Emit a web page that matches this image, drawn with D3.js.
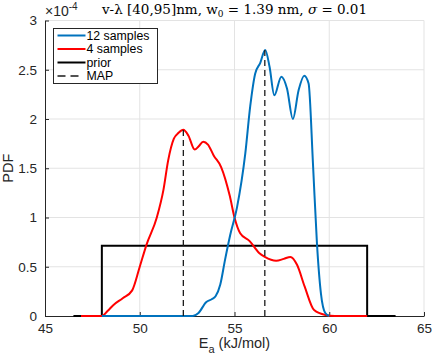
<!DOCTYPE html>
<html>
<head>
<meta charset="utf-8">
<script src="https://cdn.jsdelivr.net/npm/d3@7"></script>
<style>
  body { margin: 0; background: #fff; }
  text { font-family: "Liberation Sans", Arial, sans-serif; fill: #262626; }
  .grid line { stroke: #e3e3e3; }
</style>
</head>
<body>
<svg width="432" height="360"></svg>
<script>
// PDF values are in units of 1e-4
const xTicks = [45, 50, 55, 60, 65];
const yTicks = [0, 0.5, 1, 1.5, 2, 2.5, 3];

const ea12 = [48, 52.8, 53.1, 53.5, 53.8, 54.0, 54.25, 54.5, 54.77, 55.13, 55.57, 55.83, 56.09, 56.36, 56.62, 56.85, 57.1, 57.47, 57.77, 58.08, 58.38, 58.68, 58.91, 59.14, 59.35, 59.56, 59.79, 60.0];
const pdf12 = [0, 0, 0.03, 0.14, 0.17, 0.2, 0.32, 0.57, 0.82, 1.1, 1.65, 2.13, 2.46, 2.57, 2.70, 2.53, 2.24, 2.43, 2.31, 2.0, 2.29, 2.44, 2.36, 1.55, 0.74, 0.23, 0.03, 0];

const ea4 = [46.9, 48.0, 48.3, 48.6, 49.1, 49.6, 50.0, 50.35, 50.9, 51.25, 51.5, 51.8, 52.05, 52.3, 52.57, 52.9, 53.1, 53.35, 53.6, 53.9, 54.3, 54.75, 55.0, 55.3, 55.8, 56.3, 56.6, 57.2, 57.6, 57.95, 58.3, 58.7, 59.2, 59.8, 60.3, 62.0];
const pdf4 = [0, 0, 0.05, 0.11, 0.18, 0.26, 0.5, 0.72, 1.0, 1.28, 1.58, 1.80, 1.86, 1.89, 1.83, 1.69, 1.72, 1.77, 1.74, 1.63, 1.51, 1.22, 1.0, 0.84, 0.76, 0.64, 0.60, 0.56, 0.58, 0.60, 0.52, 0.30, 0.06, 0.01, 0, 0];

const priorX = [46.5, 48, 48, 62, 62, 63.5];
const priorPdf = [0, 0, 1 / 1.4, 1 / 1.4, 0, 0];

const mapX = [52.3, 56.6];
const mapPdf = [1.89, 2.70];

const legendNames = ["12 samples", "4 samples", "prior", "MAP"];

const margin = { left: 45, right: 8, top: 20.5, bottom: 44 };
const width = 432 - margin.left - margin.right;
const height = 360 - margin.top - margin.bottom;

const svg = d3.select('svg');
const chart = svg.append('g')
  .attr('transform', `translate(${margin.left}, ${margin.top})`);

const x = d3.scaleLinear().domain([45, 65]).range([0, width]);
const y = d3.scaleLinear().domain([0, 3]).range([height, 0]);

// grid
chart.append('g')
  .attr('class', 'grid')
  .selectAll('line.v')
  .data(xTicks.slice(1))
  .enter().append('line')
  .attr('x1', d => x(d)).attr('x2', d => x(d))
  .attr('y1', 0).attr('y2', height);

chart.append('g')
  .attr('class', 'grid')
  .selectAll('line.h')
  .data(yTicks.slice(1))
  .enter().append('line')
  .attr('x1', 0).attr('x2', width)
  .attr('y1', d => y(d)).attr('y2', d => y(d));

// axes, ticks inward like matlab
const xAxis = chart.append('g')
  .attr('transform', `translate(0, ${height})`)
  .call(d3.axisBottom(x).tickValues(xTicks).tickSizeInner(-4).tickSizeOuter(0).tickPadding(10));
const yAxis = chart.append('g')
  .call(d3.axisLeft(y).tickValues(yTicks).tickSizeInner(-4).tickSizeOuter(0).tickPadding(8)
    .tickFormat(d3.format('')));

[xAxis, yAxis].forEach(a => {
  a.select('.domain').attr('stroke', '#262626');
  a.selectAll('.tick line').attr('stroke', '#262626');
  a.selectAll('.tick text').attr('font-size', 13.5).attr('fill', '#262626')
    .attr('font-family', '"Liberation Sans", Arial, sans-serif');
});
xAxis.selectAll('.tick text').attr('dy', '0.5em');

const line = (xs, ys, curve) => d3.line()
  .x(i => x(xs[i]))
  .y(i => y(ys[i]))
  .curve(curve)(d3.range(xs.length));

chart.append('path')
  .attr('d', line(priorX, priorPdf, d3.curveLinear))
  .attr('fill', 'none').attr('stroke', '#000').attr('stroke-width', 2);

chart.append('path')
  .attr('d', line(ea4, pdf4, d3.curveMonotoneX))
  .attr('fill', 'none').attr('stroke', '#ff0000').attr('stroke-width', 2);

chart.append('path')
  .attr('d', line(ea12, pdf12, d3.curveMonotoneX))
  .attr('fill', 'none').attr('stroke', '#0072bd').attr('stroke-width', 2);

chart.selectAll('line.map')
  .data(mapX)
  .enter().append('line')
  .attr('x1', d => x(d)).attr('x2', d => x(d))
  .attr('y1', y(0)).attr('y2', (d, i) => y(mapPdf[i]))
  .attr('stroke', '#1a1a1a').attr('stroke-width', 1.3).attr('stroke-dasharray', '6,4');

// exponent label
const expo = svg.append('text')
  .attr('x', margin.left).attr('y', 16)
  .attr('font-size', 14);
expo.append('tspan').text('×10');
expo.append('tspan').attr('font-size', 10).attr('dy', -6).text('-4');

// title
const title = svg.append('text')
  .attr('x', margin.left + width / 2).attr('y', 14)
  .attr('text-anchor', 'middle')
  .attr('font-size', 13.5)
  .style('font-family', '"DejaVu Serif", "Liberation Serif", serif')
  .style('fill', '#000');
title.append('tspan').text('v-λ [40,95]nm, w');
title.append('tspan').attr('font-size', 9).attr('dy', 3).text('0');
title.append('tspan').attr('dy', -3).text(' = 1.39 nm, ');
title.append('tspan').attr('font-style', 'italic').text('σ');
title.append('tspan').text(' = 0.01');

// axis labels
svg.append('text')
  .attr('transform', `translate(13, ${margin.top + height / 2}) rotate(-90)`)
  .attr('text-anchor', 'middle')
  .attr('font-size', 14.5)
  .text('PDF');

const xl = svg.append('text')
  .attr('x', margin.left + width / 2).attr('y', 348)
  .attr('text-anchor', 'middle')
  .attr('font-size', 14.5);
xl.append('tspan').text('E');
xl.append('tspan').attr('font-size', 11).attr('dy', 5).text('a');
xl.append('tspan').attr('dy', -5).text(' (kJ/mol)');

// legend
const legend = svg.append('g').attr('transform', 'translate(53.5, 28.5)');
legend.append('rect')
  .attr('width', 104).attr('height', 55)
  .attr('fill', '#fff').attr('stroke', '#262626').attr('stroke-width', 1);

const legendStyles = [
  { color: '#0072bd', dash: null, w: 2, x2: 32 },
  { color: '#ff0000', dash: null, w: 2, x2: 32 },
  { color: '#000', dash: null, w: 2, x2: 32 },
  { color: '#1a1a1a', dash: '8,5', w: 1.3, x2: 25 }
];

const rows = legend.selectAll('g.row')
  .data(legendNames)
  .enter().append('g')
  .attr('transform', (d, i) => `translate(0, ${7 + i * 13.5})`);

rows.append('line')
  .attr('x1', 4).attr('x2', (d, i) => legendStyles[i].x2)
  .attr('stroke', (d, i) => legendStyles[i].color)
  .attr('stroke-width', (d, i) => legendStyles[i].w)
  .attr('stroke-dasharray', (d, i) => legendStyles[i].dash);

rows.append('text')
  .attr('x', 33).attr('dy', '0.35em')
  .attr('font-size', 12.3)
  .style('fill', '#000')
  .text(d => d);
</script>
</body>
</html>
